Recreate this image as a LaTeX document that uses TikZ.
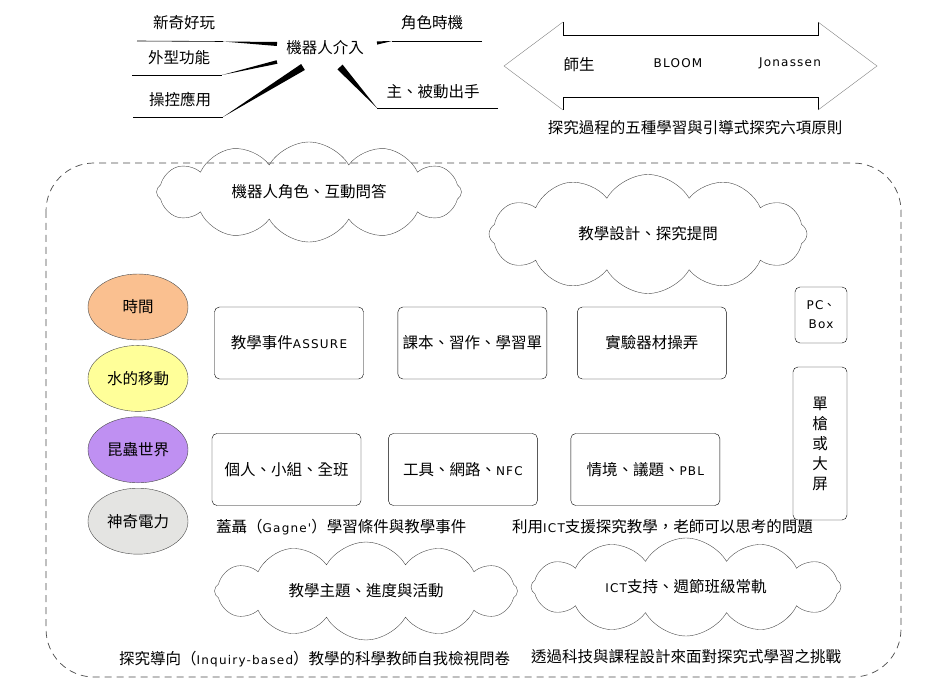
\documentclass[tikz,border=0pt]{standalone}
\usepackage{fontspec}
\setmainfont{Noto Sans CJK TC}
\newfontfamily\latf[LetterSpace=10]{DejaVu Sans}
\usetikzlibrary{positioning,calc,shapes.symbols,shapes.geometric}
\definecolor{peach}{HTML}{FAC090}
\definecolor{lemon}{HTML}{FFFF99}
\definecolor{lilac}{HTML}{BF90F2}
\definecolor{mist}{HTML}{E4E4E2}
\definecolor{edge}{HTML}{4A4A4A}
\newcommand\ltn[1]{{\latf\fontsize{12}{14}\selectfont #1}}
\newcommand\wedgeto[3]{\fill ($(#2)!#3!90:(#1)$) -- (#1) -- ($(#2)!#3!-90:(#1)$) -- cycle;}
\tikzset{txt/.style={font=\fontsize{15.5}{18}\selectfont,inner sep=1pt},topic/.style={ellipse,draw=edge,minimum width=100pt,minimum height=66pt,font=\fontsize{15.5}{18}\selectfont},card/.style={draw,rounded corners=5pt,minimum width=149pt,minimum height=72pt,font=\fontsize{15.5}{18}\selectfont},puff/.style={cloud,draw=edge,cloud puffs=12,cloud puff arc=120,aspect=3,cloud ignores aspect,font=\fontsize{15.5}{18}\selectfont},leg/.style={line width=0.6pt}}

\begin{document}
\begin{tikzpicture}[x=1pt,y=-1pt]
\useasboundingbox (0,0) rectangle (948,695);
% robot mind map
\node[txt] (robot) at (325,48) {機器人介入};
\node[txt] (fun) at (184,23) {新奇好玩};
\node[txt] (look) at (179,58) {外型功能};
\node[txt] (ctrl) at (180,99) {操控應用};
\node[txt] (role) at (432,23) {角色時機};
\node[txt] (act) at (433,92) {主、被動出手};
\coordinate (funA) at (137,41); \coordinate (funB) at (223,41.5); \coordinate (funC) at (277,44);
\coordinate (lookA) at (132,75); \coordinate (lookB) at (222,75); \coordinate (lookC) at (277,62);
\coordinate (ctrlA) at (133,117); \coordinate (ctrlB) at (223,117); \coordinate (ctrlC) at (303,67);
\coordinate (roleA) at (482,41); \coordinate (roleB) at (392,41); \coordinate (roleC) at (377,43);
\coordinate (actA) at (498,108); \coordinate (actB) at (377,108); \coordinate (actC) at (340,67);
\draw[leg] (funA) -- (funB); \wedgeto{funB}{funC}{2pt}
\draw[leg] (lookA) -- (lookB); \wedgeto{lookB}{lookC}{1.8pt}
\draw[leg] (ctrlA) -- (ctrlB); \wedgeto{ctrlB}{ctrlC}{3.5pt}
\draw[leg] (roleA) -- (roleB); \wedgeto{roleB}{roleC}{1.6pt}
\draw[leg] (actA) -- (actB); \wedgeto{actB}{actC}{3.5pt}
% double arrow
\draw[leg] (563,22) -- (563,35) -- (818,35) -- (818,22);
\draw[leg] (818,110) -- (818,97) -- (563,97) -- (563,110);
\draw[gray] (818,22) -- (877,66) -- (818,110);
\draw[gray] (563,110) -- (504,66) -- (563,22);
\node[txt] (pair) at (579,65) {師生};
\node (bloom) at (678,63) {\ltn{BLOOM}};
\node (jona) at (790,63) {\ltn{Jonassen}};
\node[txt] (rule) at (695,128) {探究過程的五種學習與引導式探究六項原則};
% frame
\draw[edge,line width=0.7pt,dash pattern=on 7pt off 5pt,rounded corners=48pt] (46,163) rectangle (901,677);
% clouds
\node[puff,minimum width=305pt,minimum height=100pt] (qa) at (309,192) {機器人角色、互動問答};
\node[puff,minimum width=318pt,minimum height=119pt] (design) at (648,234) {教學設計、探究提問};
\node[puff,minimum width=303pt,minimum height=98pt] (theme) at (366,591) {教學主題、進度與活動};
\node[puff,minimum width=310pt,minimum height=98pt] (routine) at (686,587) {\ltn{ICT}支持、週節班級常軌};
% topics
\node[topic,fill=peach] (time) at (138,307) {時間};
\node[topic,fill=lemon,below=5pt of time] (water) {水的移動};
\node[topic,fill=lilac,below=5pt of water] (bug) {昆蟲世界};
\node[topic,fill=mist,below=5pt of bug] (power) {神奇電力};
% cards
\node[card] (assure) at (289,343) {教學事件\ltn{ASSURE}};
\node[card,right=34pt of assure] (book) {課本、習作、學習單};
\node[card,right=30pt of book] (lab) {實驗器材操弄};
\node[card] (group) at (286.5,469.5) {個人、小組、全班};
\node[card,right=27pt of group] (tool) {工具、網路、\ltn{NFC}};
\node[card,right=33pt of tool] (pbl) {情境、議題、\ltn{PBL}};
\node[draw,rounded corners=5pt,minimum width=52pt,minimum height=56pt,align=center,font=\fontsize{12}{19}\selectfont] (pc) at (821,315) {\ltn{PC}、\\\ltn{Box}};
\node[draw,rounded corners=5pt,minimum width=54pt,minimum height=153pt,align=center,font=\fontsize{15.5}{20}\selectfont] (screen) at (820,443.5) {單\\槍\\或\\大\\屏};
% captions
\node[txt,anchor=west] (gagne) at (215,527) {蓋聶（\ltn{Gagne'}）學習條件與教學事件};
\node[txt,anchor=west] (ict) at (511,527) {利用\ltn{ICT}支援探究教學，老師可以思考的問題};
\node[txt,anchor=west] (survey) at (118,659) {探究導向（\ltn{Inquiry-based}）教學的科學教師自我檢視問卷};
\node[txt,anchor=west] (chall) at (530,657) {透過科技與課程設計來面對探究式學習之挑戰};
\end{tikzpicture}
\end{document}
